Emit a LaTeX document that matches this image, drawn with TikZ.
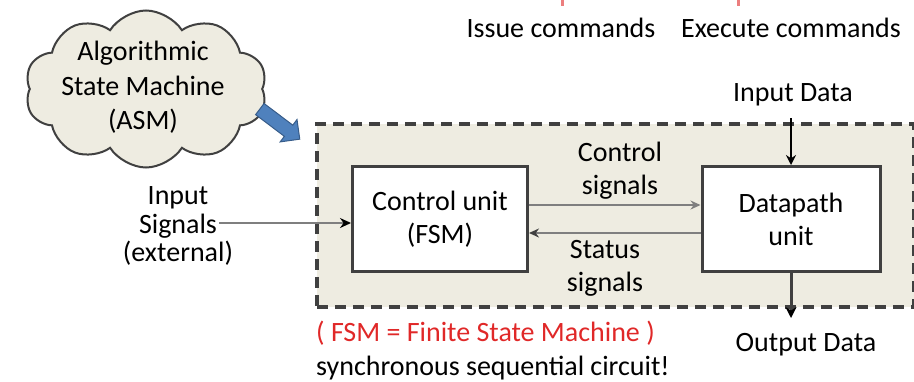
\documentclass[tikz,border=0pt]{standalone}
\usepackage{fontspec}
\setmainfont{Carlito}
\usetikzlibrary{shapes.symbols,shapes.arrows,arrows.meta,calc}
\definecolor{beige}{HTML}{EEECE1}
\definecolor{dgray}{HTML}{404040}
\definecolor{mgray}{HTML}{7F7F7F}
\definecolor{notered}{HTML}{E02828}
\definecolor{arrblue}{HTML}{4F81BD}
\definecolor{arrblueline}{HTML}{385D8A}
\begin{document}
\begin{tikzpicture}[x=1pt,y=-1pt,
  font=\fontsize{28}{33}\selectfont,
  every node/.style={inner sep=0pt},
  unitbox/.style={draw=dgray, line width=3pt, fill=white, align=center, minimum height=105pt},
  txt/.style={align=center},
  tip/.style={-{Stealth[length=10pt,width=10pt]}},
]
\useasboundingbox (0,0) rectangle (914,381);

% system dashed box
\node[draw=dgray, line width=3.5pt, dash pattern=on 11pt off 7pt, fill=beige,
      minimum width=597pt, minimum height=183pt, anchor=north west] (sys) at (315,122) {};

% cloud
\node[cloud, cloud puffs=10, cloud puff arc=115, aspect=1.6, draw=dgray, line width=2pt,
      fill=beige, minimum width=242pt, minimum height=157pt] (asm) at (146,89) {};
\node[txt, font=\fontsize{28}{34.5}\selectfont] (asmtext) at (143,87.5) {Algorithmic\\State Machine\\(ASM)};

% blue arrow
\node[single arrow, fill=arrblue, draw=arrblueline, line width=1pt, rotate=-37,
      minimum height=50pt, inner sep=6.5pt, single arrow head extend=7pt] (bluearr) at (277,122) {};

% top fragments
\draw[notered!60, line width=3pt] (562,0) -- (562,6);
\draw[notered!60, line width=3pt] (738,0) -- (738,6);
\node (issue) at (561,28) {Issue commands};
\node (exec) at (791,28) {Execute commands};

% units
\node[unitbox, minimum width=175pt] (cu) at (440,219) {Control unit\\(FSM)};
\node[unitbox, minimum width=178pt] (dp) at (791,219) {Datapath\\unit};

% labels
\node[txt] (ctrllbl) at (620,171) {Control\\signals};
\node[txt] (statlbl) at (605,268) {Status\\signals};
\node[txt, font=\fontsize{28}{28.5}\selectfont] (insig) at (178,226) {Input\\Signals\\(external)};
\coordinate (insigend) at (219,223);
\node (indata) at (793,95) {Input Data};
\node (outdata) at (806,345) {Output Data};
\coordinate (outend) at (791,318);

\node[anchor=west, text=notered] (fsmnote) at (316,333) {( FSM = Finite State Machine )};
\node[anchor=west] (sync) at (316,368) {synchronous sequential circuit!};

% connectors
\draw[mgray, line width=2.5pt, -{Stealth[length=11pt,width=10pt,color=black]}] (insigend) -- (insigend -| cu.west);
\draw[mgray, line width=2pt, -{Stealth[length=10pt,width=9pt]}] ([yshift=14pt]cu.east) -- ([yshift=14pt]dp.west);
\draw[mgray, line width=2.5pt, -{Stealth[length=10pt,width=9pt,color=dgray]}] ([yshift=-14pt]dp.west) -- ([yshift=-14pt]cu.east);
\draw[black, line width=2pt, tip] ([yshift=-12pt]indata.south -| dp.north) -- (dp.north);
\draw[dgray, line width=3pt, -{Stealth[length=11pt,width=11pt,color=black]}] (dp.south) -- (outend);
\end{tikzpicture}
\end{document}
